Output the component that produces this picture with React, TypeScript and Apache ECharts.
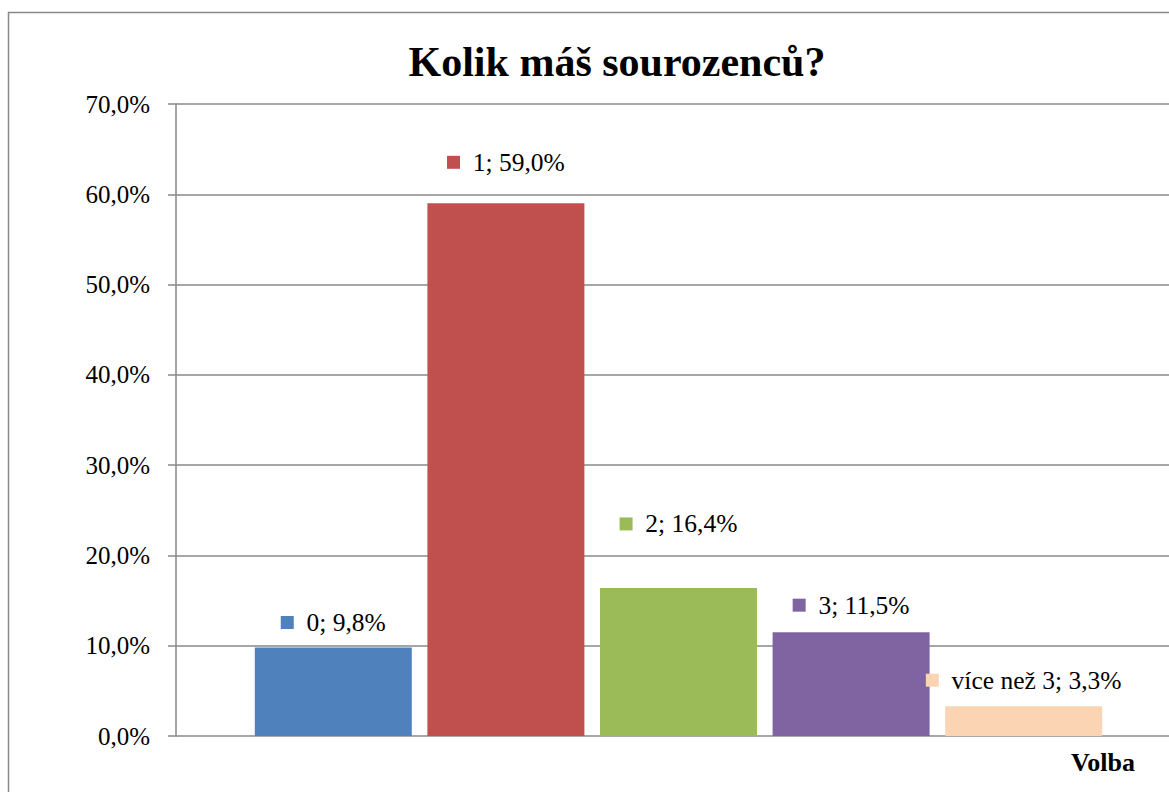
import React, { useEffect, useRef } from "react";
import * as echarts from "echarts";

const categories = ["0", "1", "2", "3", "více než 3"];
const values = [9.8, 59.0, 16.4, 11.5, 3.3];
const colors = ["#4F81BD", "#C0504D", "#9BBB59", "#8064A2", "#FBD4B4"];
const labelDistances = [12, 28, 51, 14, 13];
const yTicks = { min: 0, max: 70, interval: 10 };

const FONT = '"Liberation Serif", "Times New Roman", serif';
const fmt = (v: number) => v.toFixed(1).replace(".", ",") + "%";

export default function App() {
  const ref = useRef<HTMLDivElement>(null);
  useEffect(() => {
    if (!ref.current) return;
    const chart = echarts.init(ref.current, null, { renderer: "svg" });
    chart.setOption({
      animation: false,
      backgroundColor: "#ffffff",
      title: [
        {
          text: "Kolik máš sourozenců?",
          left: 612,
          textAlign: "center",
          top: 36,
          textStyle: { fontFamily: FONT, fontSize: 42, fontWeight: "bold", color: "#000" },
        },
        {
          text: "Volba",
          right: 29,
          top: 744,
          textStyle: { fontFamily: FONT, fontSize: 26, fontWeight: "bold", color: "#000" },
        },
      ],
      graphic: [
        {
          type: "rect",
          shape: { x: 8.5, y: 12.5, width: 1400, height: 1000 },
          style: { fill: "none", stroke: "#888", lineWidth: 1.5 },
          silent: true,
          z: -1,
        },
      ],
      grid: [
        { left: 176, right: 0, top: 104, bottom: 56 },
        { left: 247, right: 59, top: 104, bottom: 56 },
      ],
      xAxis: [
        { gridIndex: 0, type: "category", data: [""], show: false },
        { gridIndex: 1, type: "category", data: categories, show: false },
      ],
      yAxis: [
        {
          gridIndex: 0,
          type: "value",
          min: yTicks.min,
          max: yTicks.max,
          interval: yTicks.interval,
          axisLine: { show: true, lineStyle: { color: "#888", width: 1.5 } },
          axisTick: { show: true, inside: false, length: 8, lineStyle: { color: "#888", width: 1.5 } },
          axisLabel: {
            margin: 26,
            formatter: (v: number) => fmt(v),
            fontFamily: FONT,
            fontSize: 25,
            color: "#000",
          },
          splitLine: { show: true, lineStyle: { color: "#888", width: 1.5 } },
        },
        {
          gridIndex: 1,
          type: "value",
          min: yTicks.min,
          max: yTicks.max,
          interval: yTicks.interval,
          show: false,
          splitLine: { show: false },
        },
      ],
      series: [
        {
          type: "bar",
          xAxisIndex: 1,
          yAxisIndex: 1,
          barWidth: 157,
          data: values.map((v, i) => ({
            value: v,
            itemStyle: { color: colors[i] },
            label: {
              show: true,
              position: "top",
              distance: labelDistances[i],
              formatter: `{sq|}{t|  ${categories[i]}; ${fmt(v)}}`,
              rich: {
                sq: { backgroundColor: colors[i], width: 13, height: 13 },
                t: { fontFamily: FONT, fontSize: 25.5, color: "#000", lineHeight: 26 },
              },
            },
          })),
        },
      ],
    });
    return () => chart.dispose();
  }, []);
  return (
    <div
      ref={ref}
      style={{ position: "fixed", left: 0, top: 0, width: 1169, height: 792 }}
    />
  );
}
